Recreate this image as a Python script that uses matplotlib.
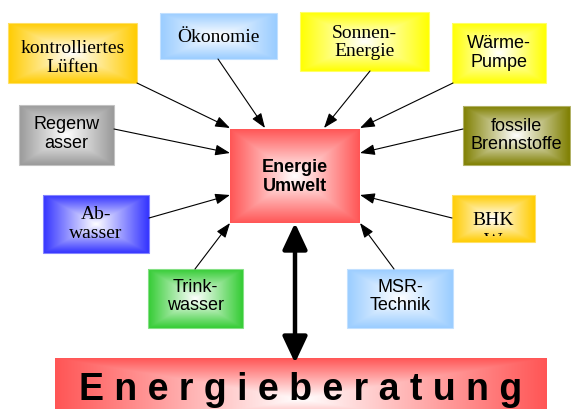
import numpy as np
import matplotlib
matplotlib.use("Agg")
import matplotlib.pyplot as plt
from matplotlib.patches import FancyArrowPatch, Rectangle
from matplotlib.colors import to_rgb
from matplotlib.transforms import Bbox, TransformedBbox

# ---- data ----
labels = ["kontrolliertes\nLüften", "Ökonomie", "Regenw\nasser", "Sonnen-\nEnergie",
          "Wärme-\nPumpe", "fossile\nBrennstoffe", "Ab-\nwasser", "Trink-\nwasser",
          "BHK", "MSR-\nTechnik"]
colors = ["#FFCC00", "#99CCFF", "#999999", "#FFFF00", "#FFFF00", "#7F7F00",
          "#3333FF", "#33CC33", "#FFCC00", "#99CCFF"]
fonts = ["serif", "serif", "sans", "serif", "sans", "sans", "serif", "sans", "serif", "sans"]
bhk_overflow = "W"
center_label = "Energie\nUmwelt"
center_color = "#FF5555"
bottom_label = "E n e r g i e b e r a t u n g"
bottom_color = "#FF5555"

# ---- layout (pixels, y down) ----
boxes = [(8, 23, 137, 83), (160, 13, 277, 59), (19, 105, 114, 165), (300, 12, 429, 71),
         (452, 23, 546, 83), (463, 106, 570, 165), (43, 195, 149, 253), (148, 269, 243, 328),
         (452, 195, 535, 242), (347, 269, 453, 328)]
text_dy = [5, 2, -1, 1, 0, 0, 0, -2, 0, -2]
arrows = [((137, 83), (230, 128)), ((218, 59), (265, 128)), ((114, 129), (230, 153)),
          ((370, 71), (324, 128)), ((453, 83), (360, 128)), ((463, 129), (360, 153)),
          ((149, 218), (230, 195)), ((195, 269), (230, 223)), ((452, 218), (360, 195)),
          ((394, 269), (360, 223))]
center_box = (230, 129, 360, 223)
bottom_box = (55, 358, 547, 440)

W, H = 571, 409
fig = plt.figure(figsize=(W / 100, H / 100), dpi=100)
ax = fig.add_axes([0, 0, 1, 1])
ax.set_xlim(0, W)
ax.set_ylim(H, 0)
ax.axis("off")


def grad_box(b, color, edge=True, z=2):
    x0, y0, x1, y1 = b
    w, h = x1 - x0, y1 - y0
    nx, ny = int(w * 2), int(h * 2)
    xs = (np.arange(nx) + 0.5) / nx * 2 - 1
    ys = (np.arange(ny) + 0.5) / ny * 2 - 1
    X, Y = np.meshgrid(xs, ys)
    t = np.clip(np.maximum(np.abs(X), np.abs(Y)), 0, 1)[..., None]
    c = np.array(to_rgb(color))
    img = (1 - t) * np.ones(3) + t * c
    im = ax.imshow(img, extent=(x0, x1, y1, y0), interpolation="bilinear", zorder=z, aspect="auto")
    rect = Rectangle((x0, y0), w, h, transform=ax.transData)
    im.set_clip_path(rect)
    if edge:
        ec = 0.6 * c + 0.4 * np.ones(3)
        ax.add_patch(Rectangle((x0, y0), w, h, fill=False, edgecolor=ec, lw=0.8, zorder=z + 0.1))


fam = {"serif": "Liberation Serif", "sans": "Liberation Sans"}
size = {"serif": 14, "sans": 13}

for lab, col, f, b, dy in zip(labels, colors, fonts, boxes, text_dy):
    grad_box(b, col)
    cx, cy = (b[0] + b[2]) / 2, (b[1] + b[3]) / 2
    if lab == "BHK":
        ax.text(cx, 225, lab, ha="center", va="baseline", fontsize=size[f],
                family=fam[f], zorder=5)
        t = ax.text(cx, 246, bhk_overflow, ha="center", va="baseline", fontsize=size[f],
                    family=fam[f], zorder=5)
        cb = Bbox.from_extents(b[0] / W, 1 - 236 / H, b[2] / W, 1 - b[1] / H)
        t.set_clip_on(True)
        t.set_clip_box(TransformedBbox(cb, ax.transAxes))
    else:
        ax.text(cx, cy + dy, lab, ha="center", va="center", fontsize=size[f],
                family=fam[f], linespacing=1.13, zorder=5)

grad_box(center_box, center_color, edge=False)
ax.text((center_box[0] + center_box[2]) / 2, (center_box[1] + center_box[3]) / 2 + 1, center_label,
        ha="center", va="center", fontsize=13, fontweight="bold",
        family="Liberation Sans", linespacing=1.12, zorder=5)

grad_box(bottom_box, bottom_color, edge=False)
ax.text((bottom_box[0] + bottom_box[2]) / 2, 400, bottom_label, ha="center", va="baseline",
        fontsize=27, fontweight="bold", family="Liberation Sans", zorder=5)

for (p0, p1) in arrows:
    a = FancyArrowPatch(p0, p1, arrowstyle="-|>,head_length=0.9,head_width=0.33",
                        mutation_scale=10, lw=0.8, color="black", shrinkA=0, shrinkB=0, zorder=4)
    ax.add_patch(a)

a = FancyArrowPatch((295, 223), (295, 363), arrowstyle="<|-|>,head_length=1.6,head_width=0.75",
                    mutation_scale=10, lw=3.2, color="black", shrinkA=0, shrinkB=0, zorder=4)
ax.add_patch(a)

fig.savefig("out.png", dpi=100)
